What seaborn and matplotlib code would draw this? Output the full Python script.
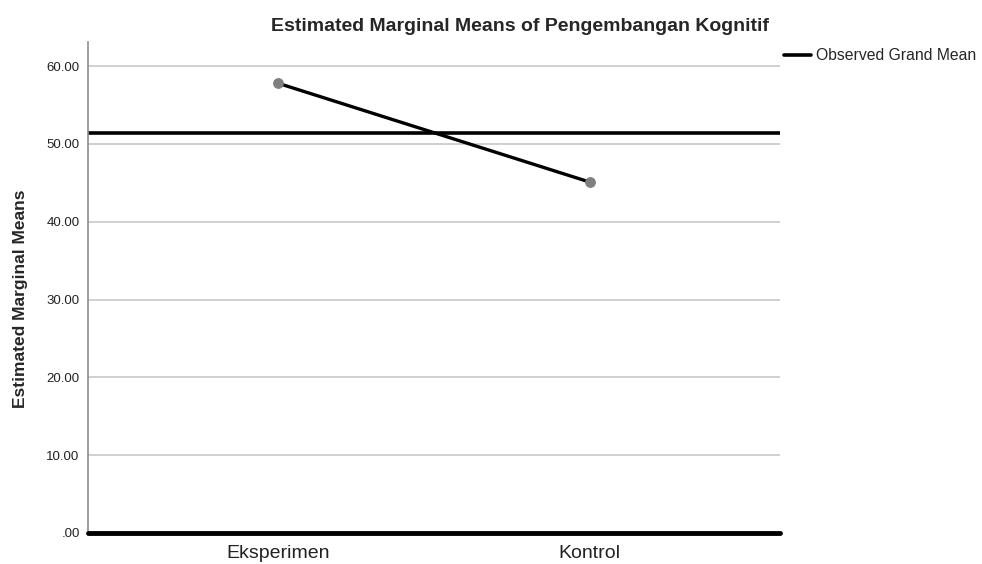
import matplotlib
matplotlib.use("Agg")
import matplotlib.pyplot as plt
import seaborn as sns
import pandas as pd

categories = ["Eksperimen", "Kontrol"]
means = [57.8, 45.1]
grand_mean = 51.45
y_ticks = [0, 10, 20, 30, 40, 50, 60]
y_tick_labels = [".00", "10.00", "20.00", "30.00", "40.00", "50.00", "60.00"]

sns.set_style("white")
plt.rcParams["font.family"] = ["Liberation Sans", "DejaVu Sans"]

df = pd.DataFrame({"group": categories, "mean": means})

fig = plt.figure(figsize=(9.82, 5.64), dpi=100)
ax = fig.add_axes([0.0896, 0.055, 0.7045, 0.8705])

ax.set_ylim(0, 63.1)
ax.set_xlim(-0.61, 1.61)
for t in y_ticks[1:]:
    ax.axhline(t, color="#c8c8c8", lw=1.2, zorder=0)

sns.lineplot(data=df, x="group", y="mean", ax=ax, color="black", lw=2.4,
             marker="o", markersize=7, markerfacecolor="#7f7f7f",
             markeredgecolor="#7f7f7f", sort=False, zorder=3)

gm = ax.axhline(grand_mean, color="black", lw=2.6, zorder=2, label="Observed Grand Mean")
ax.axhline(0, color="black", lw=3.5, zorder=4, clip_on=False)

ax.set_yticks(y_ticks)
ax.set_yticklabels(y_tick_labels, fontsize=9.5, color="#222222")
ax.set_xticks([0, 1])
ax.set_xticklabels(categories, fontsize=14, color="#222222")
ax.tick_params(axis="y", length=0, pad=6)
ax.tick_params(axis="x", length=0, pad=9)

for s in ["top", "right", "bottom"]:
    ax.spines[s].set_visible(False)
ax.spines["left"].set_color("#8c8c8c")
ax.spines["left"].set_linewidth(1.2)

ax.set_xlabel("")
ax.set_ylabel("Estimated Marginal Means", fontsize=12.5, fontweight="bold")
ax.yaxis.set_label_coords(-0.086, 0.4766)
ax.set_title("Estimated Marginal Means of Pengembangan Kognitif", fontsize=14,
             fontweight="bold", x=0.625, pad=8)

ax.legend(handles=[gm], labels=["Observed Grand Mean"], loc="upper left",
          bbox_to_anchor=(0.997, 1.0), frameon=False, fontsize=11.3,
          handlelength=1.7, handletextpad=0.35, borderaxespad=0)

fig.savefig("out.png", dpi=100)
